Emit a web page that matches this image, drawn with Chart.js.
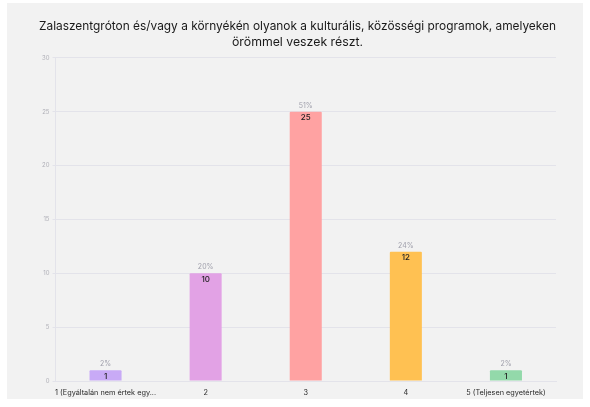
<!DOCTYPE html>
<html>
<head>
<meta charset="utf-8">
<script src="https://cdn.jsdelivr.net/npm/chart.js@4/dist/chart.umd.min.js"></script>
<style>
  html, body { margin: 0; padding: 0; background: #fff; }
  #card { position: absolute; left: 7px; top: 3px; width: 576px; height: 396px; background: #f2f2f2; }
</style>
</head>
<body>
<div id="card"><canvas id="surveyChart" width="576" height="396"></canvas></div>
<script>
const categories = ['1 (Egyáltalán nem értek egy...', '2', '3', '4', '5 (Teljesen egyetértek)'];
const counts = [1, 10, 25, 12, 1];
const percentLabels = ['2%', '20%', '51%', '24%', '2%'];
const barColors = ['#c8aaf6', '#e2a2e5', '#ffa2a2', '#ffc152', '#93d9aa'];
const titleLines = [
    'Zalaszentgróton és/vagy a környékén olyanok a kulturális, közösségi programok, amelyeken',
    'örömmel veszek részt.'
];

// draws the percentage above each bar and the count just inside its top
const barLabels = {
    id: 'barLabels',
    afterDatasetsDraw(chart) {
        const c = chart.ctx;
        const meta = chart.getDatasetMeta(0);
        c.save();
        c.textAlign = 'center';
        c.textBaseline = 'middle';
        meta.data.forEach((bar, i) => {
            c.font = '7px Inter, sans-serif';
            c.fillStyle = '#a0a0ac';
            c.fillText(percentLabels[i], bar.x, bar.y - 6);
            c.font = '500 8px Inter, sans-serif';
            c.fillStyle = '#222';
            c.fillText(String(counts[i]), bar.x, bar.y + 6);
        });
        c.restore();
    }
};

const ctx = document.getElementById('surveyChart').getContext('2d');
const surveyChart = new Chart(ctx, {
    type: 'bar',
    data: {
        labels: categories,
        datasets: [{
            data: counts,
            backgroundColor: barColors,
            borderWidth: 0,
            borderRadius: 1,
            barPercentage: 0.32,
            categoryPercentage: 1.0
        }]
    },
    options: {
        responsive: false,
        animation: false,
        layout: { padding: { left: 32, right: 27, top: 0, bottom: 1 } },
        scales: {
            x: {
                grid: { display: false, drawTicks: false },
                border: { color: '#e3e3ea' },
                afterFit(scale) { scale.height = 17; },
                ticks: {
                    color: '#2a2a2a',
                    font: { family: 'Inter, sans-serif', size: 7.3 },
                    maxRotation: 0,
                    autoSkip: false,
                    padding: 7
                }
            },
            y: {
                min: 0,
                max: 30,
                ticks: {
                    stepSize: 5,
                    color: '#b0b0b8',
                    font: { family: 'Inter, sans-serif', size: 6 },
                    padding: 3
                },
                grid: { color: '#e3e3ea', tickLength: 3 },
                border: { color: '#e3e3ea' }
            }
        },
        plugins: {
            legend: { display: false },
            tooltip: { enabled: false },
            title: {
                display: true,
                text: titleLines,
                color: '#1a1a1a',
                font: { family: 'Inter, sans-serif', size: 12.3, weight: 'normal', lineHeight: 1.3 },
                padding: { top: 15, bottom: 8 }
            }
        }
    },
    plugins: [barLabels]
});
</script>
</body>
</html>
